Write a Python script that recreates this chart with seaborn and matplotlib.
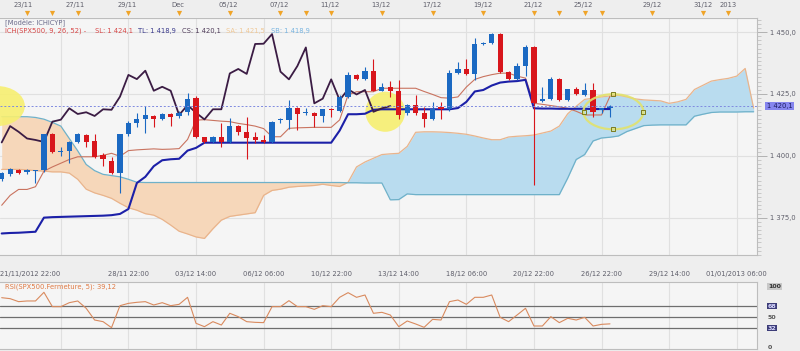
import matplotlib
matplotlib.use("Agg")
import matplotlib.pyplot as plt
import seaborn as sns
import numpy as np
from matplotlib.patches import Ellipse
from matplotlib.ticker import MultipleLocator


# -------------------------
# Data (8h candles, SPX500)
# -------------------------

opens = [1390.6, 1392.5, 1394.4, 1393.3, 1393.9, 1394.2, 1408.7, 1401.6, 1402.1, 1405.6,
         1408.4, 1406.0, 1400.3, 1398.0, 1393.2, 1408.7, 1413.1, 1414.9, 1416.2, 1414.9,
         1416.8, 1416.1, 1417.8, 1423.5, 1407.4, 1405.4, 1407.4, 1405.4, 1412.0, 1409.7,
         1407.4, 1406.4, 1405.7, 1414.5, 1414.5, 1419.2, 1417.2, 1417.2, 1416.1, 1419.0,
         1418.2, 1423.9, 1432.7, 1431.0, 1434.4, 1426.3, 1427.9, 1426.3, 1417.2, 1420.5,
         1417.4, 1414.7, 1419.6, 1418.8, 1433.3, 1435.1, 1433.1, 1445.0, 1445.5, 1449.2,
         1434.0, 1430.9, 1436.3, 1443.8, 1422.3, 1423.1, 1430.9, 1422.5, 1426.9, 1424.6,
         1426.6, 1418.6, 1419.5]
highs = [1393.5, 1395.2, 1394.8, 1394.6, 1394.4, 1409.0, 1409.2, 1403.4, 1406.0, 1409.2,
         1408.9, 1408.7, 1401.0, 1399.6, 1409.0, 1414.0, 1417.2, 1420.1, 1416.6, 1417.2,
         1417.2, 1418.0, 1425.5, 1424.2, 1407.8, 1408.0, 1413.1, 1415.1, 1412.4, 1415.8,
         1409.7, 1408.4, 1414.2, 1415.4, 1422.5, 1419.6, 1419.2, 1417.6, 1419.0, 1419.2,
         1424.5, 1434.0, 1433.1, 1436.0, 1439.0, 1429.3, 1430.4, 1430.6, 1421.0, 1424.6,
         1419.6, 1421.9, 1421.9, 1434.7, 1437.8, 1439.0, 1447.5, 1445.8, 1449.6, 1449.6,
         1434.4, 1437.6, 1444.8, 1444.2, 1428.0, 1431.8, 1431.3, 1427.2, 1427.9, 1429.6,
         1429.3, 1419.5, 1420.5]
lows = [1390.0, 1392.0, 1392.6, 1392.6, 1389.1, 1393.5, 1401.0, 1399.9, 1397.2, 1405.2,
        1403.4, 1399.0, 1395.9, 1392.8, 1385.1, 1408.0, 1411.8, 1409.3, 1411.8, 1414.5,
        1412.0, 1415.1, 1416.5, 1407.0, 1405.0, 1405.0, 1403.7, 1405.0, 1408.4, 1398.6,
        1405.3, 1405.3, 1405.3, 1413.4, 1410.7, 1410.4, 1416.4, 1411.5, 1413.8, 1415.8,
        1417.8, 1423.5, 1430.6, 1430.6, 1426.0, 1426.0, 1423.9, 1415.0, 1416.5, 1416.5,
        1411.5, 1414.3, 1414.7, 1418.0, 1432.9, 1432.7, 1430.6, 1444.6, 1445.0, 1433.6,
        1430.5, 1430.5, 1432.3, 1388.2, 1421.8, 1422.5, 1422.0, 1422.0, 1424.4, 1424.2,
        1415.8, 1417.4, 1415.8]
closes = [1393.0, 1394.6, 1393.2, 1394.2, 1394.0, 1408.7, 1401.4, 1401.9, 1405.6, 1408.7,
          1405.6, 1399.4, 1398.7, 1393.2, 1408.7, 1413.1, 1414.9, 1416.5, 1414.9, 1416.8,
          1415.8, 1417.4, 1422.8, 1407.4, 1405.4, 1407.4, 1405.4, 1412.0, 1409.7, 1407.0,
          1406.4, 1405.6, 1413.8, 1414.6, 1419.2, 1416.9, 1417.6, 1416.1, 1418.8, 1418.6,
          1423.9, 1432.7, 1431.0, 1434.4, 1426.3, 1427.9, 1426.3, 1416.5, 1420.5, 1417.4,
          1414.7, 1418.8, 1418.8, 1433.3, 1435.1, 1433.1, 1445.2, 1445.3, 1449.2, 1434.0,
          1430.9, 1436.3, 1443.8, 1421.2, 1423.1, 1430.9, 1422.5, 1426.9, 1424.8, 1426.6,
          1417.8, 1419.2, 1420.1]

tenkan = [1380.0, 1384.0, 1386.4, 1386.4, 1387.5, 1393.8, 1395.5, 1397.0, 1398.5, 1399.6,
          1399.6, 1399.6, 1400.2, 1401.0, 1399.8, 1402.1, 1402.4, 1402.6, 1402.8, 1402.6,
          1402.7, 1402.9, 1406.6, 1414.4, 1414.6, 1414.3, 1414.0, 1413.8, 1413.1, 1412.6,
          1412.0, 1411.0, 1407.7, 1407.7, 1411.1, 1411.3, 1411.4, 1411.5, 1411.5, 1411.5,
          1414.5, 1424.6, 1425.9, 1425.9, 1425.9, 1427.3, 1427.3, 1427.3, 1427.3, 1427.3,
          1426.0, 1424.8, 1423.5, 1423.3, 1423.8, 1427.8, 1430.9, 1432.0, 1432.8, 1433.4,
          1433.4, 1432.2, 1431.4, 1421.2, 1420.8, 1420.3, 1419.8, 1419.2, 1418.0, 1416.5,
          1416.5, 1416.5, 1424.1]
kijun = [1368.6, 1368.8, 1368.9, 1369.1, 1369.3, 1375.0, 1375.2, 1375.3, 1375.4, 1375.5,
         1375.6, 1375.7, 1375.8, 1376.0, 1376.5, 1378.5, 1389.0, 1391.5, 1395.8, 1398.2,
         1398.6, 1398.8, 1402.1, 1403.2, 1405.3, 1405.3, 1405.3, 1405.3, 1405.3, 1405.3,
         1405.3, 1405.3, 1405.3, 1405.3, 1405.3, 1405.3, 1405.3, 1405.3, 1405.3, 1405.3,
         1410.2, 1416.8, 1416.8, 1417.0, 1418.6, 1418.8, 1418.8, 1418.8, 1418.8, 1418.8,
         1418.8, 1418.8, 1418.8, 1418.8, 1419.3, 1421.8, 1426.0, 1426.6, 1428.4, 1429.6,
         1430.0, 1430.2, 1430.7, 1419.2, 1419.1, 1419.1, 1419.0, 1419.0, 1419.0, 1419.0,
         1418.9, 1418.9, 1418.9]
senkou_a = [1394.5, 1394.5, 1394.5, 1394.3, 1394.0, 1393.8, 1393.5, 1393.5, 1393.0, 1390.5,
            1386.5, 1385.0, 1384.0, 1382.8, 1380.8, 1379.0, 1378.0, 1376.6, 1376.0, 1374.3,
            1372.0, 1369.5, 1368.4, 1367.2, 1366.6, 1370.5, 1374.0, 1375.5, 1376.0, 1376.5,
            1377.0, 1384.0, 1386.0, 1386.5, 1387.3, 1387.6, 1387.8, 1388.0, 1388.5, 1388.0,
            1387.6, 1389.3, 1395.5, 1397.5, 1399.0, 1400.5, 1400.8, 1401.0, 1403.8, 1409.5,
            1409.7, 1409.7, 1409.6, 1409.4, 1409.1, 1408.7, 1408.0, 1407.2, 1406.5, 1406.5,
            1407.6, 1407.9, 1408.1, 1408.4, 1409.2, 1410.0, 1412.0, 1417.0, 1420.0, 1422.8,
            1423.3, 1423.8, 1424.2, 1424.5, 1423.8, 1423.0, 1422.6, 1422.4, 1422.2, 1421.2,
            1421.8, 1422.8, 1426.8, 1428.5, 1430.2, 1430.8, 1431.3, 1432.2, 1435.3, 1419.3]
senkou_b = [1415.8, 1415.8, 1415.8, 1415.8, 1415.5, 1414.8, 1413.5, 1412.0, 1407.0, 1402.0,
            1396.5, 1394.0, 1392.5, 1392.0, 1391.5, 1390.5, 1389.3, 1389.2, 1389.2, 1389.2,
            1389.2, 1389.2, 1389.2, 1389.2, 1389.2, 1389.2, 1389.2, 1389.2, 1389.2, 1389.2,
            1389.2, 1389.2, 1389.2, 1389.2, 1389.2, 1389.2, 1389.2, 1389.2, 1389.2, 1389.2,
            1389.2, 1389.1, 1389.1, 1389.0, 1389.0, 1389.0, 1382.2, 1382.3, 1384.6, 1384.3,
            1384.3, 1384.3, 1384.3, 1384.3, 1384.3, 1384.3, 1384.3, 1384.3, 1384.3, 1384.3,
            1384.3, 1384.3, 1384.3, 1384.3, 1384.3, 1384.3, 1384.3, 1391.0, 1398.5, 1400.5,
            1406.0, 1407.2, 1407.5, 1408.0, 1409.8, 1411.0, 1412.2, 1412.4, 1412.5, 1412.5,
            1412.5, 1412.5, 1416.0, 1416.8, 1417.5, 1417.7, 1417.7, 1417.7, 1417.8, 1417.8]

rsi = [82.0, 80.4, 75.5, 76.6, 76.6, 90.8, 67.3, 67.3, 73.8, 76.6,
       64.6, 45.4, 42.7, 32.9, 68.9, 72.7, 74.4, 75.5, 70.0, 73.8,
       68.9, 71.1, 82.6, 40.0, 34.5, 42.7, 37.2, 56.4, 50.9, 42.7,
       41.6, 41.1, 67.3, 67.3, 77.1, 67.3, 67.3, 62.9, 68.9, 67.3,
       82.6, 90.2, 82.6, 86.4, 56.4, 58.0, 53.6, 34.5, 43.8, 38.9,
       33.4, 46.5, 45.4, 75.5, 78.2, 71.1, 82.6, 82.6, 86.4, 49.8,
       42.7, 53.6, 64.6, 35.6, 35.6, 50.9, 41.1, 48.2, 45.4, 49.8,
       35.6, 38.3, 39.1]
rsi_levels = [68, 50, 32]
chikou_shift = 26

price_ticks = [1375, 1400, 1425, 1450]
price_labels = ["1 375,0", "1 400,0", "1 425,0", "1 450,0"]

grid_idx = [7, 15, 23, 31, 39, 47, 55, 63, 71, 79, 87]
date_pos = [15, 23, 31, 39, 47, 55, 63, 71, 79, 87]
date_labels = ["28/11 22:00", "03/12 14:00", "06/12 06:00", "10/12 22:00", "13/12 14:00",
               "18/12 06:00", "20/12 22:00", "26/12 22:00", "29/12 14:00", "01/01/2013 06:00"]
first_label = "21/11/2012 22:00"

top_pos = [2.5, 8.7, 14.8, 20.9, 26.8, 32.8, 38.9, 44.9, 50.9, 57.0, 62.9, 68.8, 77.0, 83.0, 86.0]
top_labels = ["23/11", "27/11", "29/11", "Dec", "05/12", "07/12", "11/12", "13/12",
              "17/12", "19/12", "21/12", "25/12", "29/12", "31/12", "2013"]
event_pos = [3, 6, 9, 15, 21, 27, 33, 36, 39, 45, 51, 57, 63, 66, 69, 71, 77, 83, 86]


# -------------------------
# Style / layout
# -------------------------

sns.set_style("white")
plt.rcParams["font.family"] = ["DejaVu Sans"]

W, H = 800, 351
FS = 4.9
BG = "#eeeeee"
PANEL = "#f5f5f5"
GRID = "#e0e0e0"
SPINE = "#bdbdbd"
TXT = "#5e5e6a"


def rect(x0, y0, x1, y1):
    return [x0 / W, 1 - y1 / H, (x1 - x0) / W, (y1 - y0) / H]


fig = plt.figure(figsize=(8, 3.51), dpi=100, facecolor=BG)
ax = fig.add_axes(rect(0, 18, 757, 255))
ax_top = fig.add_axes(rect(0, 0, 757, 18))
ax_rsi = fig.add_axes(rect(0, 282, 757, 349))

xlim = (-0.2, 89.4)
idx = np.arange(len(closes))
cloud_x = np.arange(len(senkou_a))


# -------------------------
# Main panel
# -------------------------

ax.set_facecolor(PANEL)
ax.set_xlim(*xlim)
ax.set_ylim(1359.9, 1455.7)

sa = np.array(senkou_a)
sb = np.array(senkou_b)
ax.fill_between(cloud_x, sa, sb, where=sa >= sb, interpolate=True,
                color="#b9dcef", lw=0, zorder=1)
ax.fill_between(cloud_x, sa, sb, where=sa < sb, interpolate=True,
                color="#f6d7ba", lw=0, zorder=1)
sns.lineplot(x=cloud_x, y=sa, ax=ax, color="#e9b48c", lw=0.9, zorder=1.5)
sns.lineplot(x=cloud_x, y=sb, ax=ax, color="#6fb1c9", lw=0.9, zorder=1.5)

# yellow highlight circles
ax.add_patch(Ellipse((-0.56, 1420.1), 6.6, 16.2, fc="#f7ef70", ec="none",
                     alpha=0.9, zorder=2))
ax.add_patch(Ellipse((45.4, 1417.8), 4.7, 16.2, fc="#f7ef70", ec="none",
                     alpha=0.9, zorder=2))

# ichimoku lines
sns.lineplot(x=idx, y=tenkan, ax=ax, color="#c9735f", lw=0.8, zorder=3)
sns.lineplot(x=idx, y=kijun, ax=ax, color="#1c20a8", lw=1.5, zorder=3)
chikou = closes[chikou_shift:]
sns.lineplot(x=idx[:len(chikou)], y=chikou, ax=ax, color="#3b1c44", lw=1.3, zorder=3)

# candles
o = np.array(opens)
c = np.array(closes)
up = c >= o
colors = np.where(up, "#1b69c2", "#d8161c")
body = c - o
body = np.where(np.abs(body) < 0.4, np.where(up, 0.4, -0.4), body)
ax.vlines(idx, lows, highs, colors=colors, lw=0.8, zorder=4)
ax.bar(idx, body, bottom=o, width=0.62, color=colors, lw=0, zorder=5)

# last price line + label
last = closes[-1]
ax.axhline(last, color="#7f8ae0", lw=0.7, ls=(0, (2, 2)), zorder=6)
ax.annotate("1 420,1", xy=(1.013, last), xycoords=("axes fraction", "data"),
            ha="left", va="center", fontsize=FS, color="#1c1c60",
            bbox=dict(boxstyle="square,pad=0.2", fc="#8585ee", ec="none"),
            annotation_clip=False)

# drawing tool ellipse with handles
ax.add_patch(Ellipse((72.4, 1417.8), 7.1, 14.2, fill=False, ec="#e2e26c",
                     lw=1.6, alpha=0.9, zorder=7))
ax.scatter([72.4, 75.9, 72.4, 68.9], [1424.9, 1417.8, 1410.7, 1417.8], marker="s",
           s=9, facecolors="none", edgecolors="#7d7d1e", linewidths=0.7, zorder=8)

# axes
ax.yaxis.tick_right()
ax.set_yticks(price_ticks)
ax.set_yticklabels(price_labels)
ax.yaxis.set_minor_locator(MultipleLocator(25 / 15))
ax.tick_params(axis="y", which="major", direction="out", length=7, width=0.6,
               color="#a8a8a8", labelsize=FS, labelcolor=TXT, pad=2)
ax.tick_params(axis="y", which="minor", direction="out", length=3, width=0.5,
               color="#b8b8b8")
ax.set_xticks(grid_idx)
ax.set_xticklabels([])
ax.xaxis.set_minor_locator(MultipleLocator(1))
ax.tick_params(axis="x", which="major", direction="out", length=5, width=0.6,
               color="#a8a8a8")
ax.tick_params(axis="x", which="minor", direction="out", length=2.5, width=0.5,
               color="#b8b8b8")
ax.grid(True, which="major", color=GRID, lw=0.8)
ax.set_axisbelow(True)
ax.set_xlabel("")
ax.set_ylabel("")
for name, sp in ax.spines.items():
    sp.set_color(SPINE)
    sp.set_linewidth(0.8)
ax.spines["left"].set_visible(False)

for pos, lab in zip(date_pos, date_labels):
    ax.text(pos, -0.08, lab, transform=ax.get_xaxis_transform(), ha="center",
            va="center", fontsize=FS, color=TXT)
ax.text(xlim[0], -0.08, first_label, transform=ax.get_xaxis_transform(), ha="left",
        va="center", fontsize=FS, color=TXT)

# legend texts
fig.text(5 / W, 1 - 22 / H, "[Modèle: ICHICYP]", fontsize=FS, color="#6a6a8a",
         va="center")
header = [(5, "ICH(SPX500, 9, 26, 52) -", "#d84848"),
          (95, "SL: 1 424,1", "#d84848"),
          (138, "TL: 1 418,9", "#3a3a8c"),
          (182, "CS: 1 420,1", "#503c5a"),
          (226, "SA: 1 421,5", "#f0c896"),
          (271, "SB: 1 418,9", "#78b4e0")]
for x0, s, col in header:
    fig.text(x0 / W, 1 - 31 / H, s, fontsize=FS, color=col, va="center")


# -------------------------
# Top date strip
# -------------------------

ax_top.set_facecolor(BG)
ax_top.set_xlim(*xlim)
ax_top.set_ylim(0, 1)
for sp in ax_top.spines.values():
    sp.set_visible(False)
ax_top.set_yticks([])
ax_top.set_xticks([])
ax_top.xaxis.set_minor_locator(MultipleLocator(1))
ax_top.tick_params(axis="x", which="minor", direction="in", length=2.5, width=0.5,
                   color="#b0b0b0")
ax_top.scatter(event_pos, [0.28] * len(event_pos), marker="v", s=14,
               color="#f0a428", lw=0, zorder=3)
for pos, lab in zip(top_pos, top_labels):
    ax_top.text(pos, 0.72, lab, ha="center", va="center", fontsize=FS, color=TXT)


# -------------------------
# RSI panel
# -------------------------

ax_rsi.set_facecolor(PANEL)
ax_rsi.set_xlim(*xlim)
ax_rsi.set_ylim(-2.1, 107.7)
ax_rsi.set_xticks(grid_idx)
ax_rsi.set_yticks([])
ax_rsi.tick_params(axis="x", length=0, labelbottom=False)
ax_rsi.grid(True, axis="x", color=GRID, lw=0.8)
ax_rsi.set_axisbelow(True)
for lvl in rsi_levels:
    ax_rsi.axhline(lvl, color="#6e6e6e", lw=0.9, zorder=2)
sns.lineplot(x=idx, y=rsi, ax=ax_rsi, color="#d98a5e", lw=0.8, zorder=3)
ax_rsi.set_xlabel("")
ax_rsi.set_ylabel("")
for sp in ax_rsi.spines.values():
    sp.set_color(SPINE)
    sp.set_linewidth(0.8)
ax_rsi.spines["left"].set_visible(False)

ax_rsi.text(0.006, 99.5, "RSI(SPX500.Fermeture, 5): 39,12", transform=ax_rsi.get_yaxis_transform(),
            fontsize=FS, color="#e07a44", va="center")

rsi_axis = [(100, "100", "#c8c8c8", "#333333"),
            (68, "68", "#3c3c78", "#d8d8ff"),
            (50, "50", None, "#555555"),
            (32, "32", "#3c3c78", "#d8d8ff"),
            (0, "0", None, "#555555")]
for val, lab, fc, tc in rsi_axis:
    kw = {}
    if fc:
        kw["bbox"] = dict(boxstyle="square,pad=0.12", fc=fc, ec="none")
    ax_rsi.text(1.0145, val, lab, transform=ax_rsi.get_yaxis_transform(), ha="left",
                va="center", fontsize=FS - 0.4, color=tc, fontweight="bold",
                clip_on=False, **kw)

fig.savefig("out.png", dpi=100, facecolor=BG)
plt.close(fig)
